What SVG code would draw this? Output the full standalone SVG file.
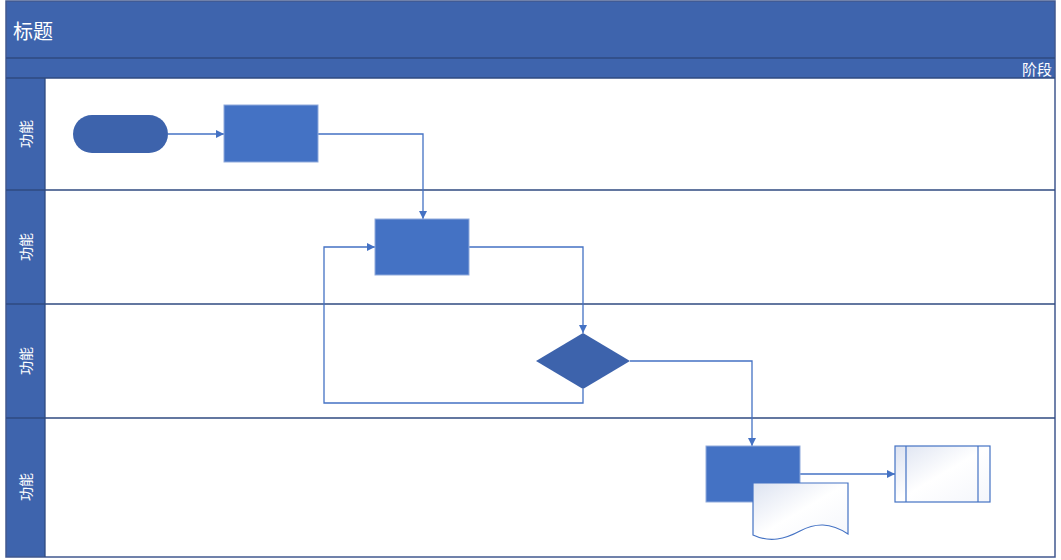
<svg xmlns="http://www.w3.org/2000/svg" width="1061" height="560" viewBox="0 0 1061 560">
<style>
.lbl{font-family:"Noto Sans CJK SC","Liberation Sans",sans-serif;fill:#ffffff}
.sep{stroke:#2F4A80;stroke-width:1.3}
.conn{fill:none;stroke:#4472C4;stroke-width:1.3}
.proc{fill:#4472C4;stroke:#8FAADC;stroke-width:1}
.dark{fill:#3D63AC}
.light{fill:url(#g);stroke:#4472C4;stroke-width:1.2}
</style>
<defs>
<marker id="a" viewBox="0 0 10 10" refX="10" refY="5" markerWidth="8" markerHeight="8" markerUnits="userSpaceOnUse" orient="auto"><path d="M0,0L10,5L0,10z" fill="#4472C4"/></marker>
<linearGradient id="g" x1="0" y1="0" x2="1" y2="1"><stop offset="0" stop-color="#DDE3F1"/><stop offset="0.5" stop-color="#FFFFFF"/><stop offset="1" stop-color="#F4F6FB"/></linearGradient>
</defs>
<rect x="0" y="0" width="1061" height="560" fill="#ffffff"/>
<g id="pool">
<rect x="6" y="1" width="1049" height="77" fill="#3E64AD"/>
<rect x="6" y="78" width="39" height="479" fill="#3E64AD"/>
<rect x="6" y="1" width="1049" height="556" fill="none" stroke="#41588F" stroke-width="1.5"/>
<line class="sep" x1="6" y1="58" x2="1055" y2="58"/>
<line class="sep" x1="6" y1="78" x2="1055" y2="78"/>
<line class="sep" x1="45" y1="78" x2="45" y2="557"/>
<line class="sep" x1="6" y1="190" x2="1055" y2="190"/>
<line class="sep" x1="6" y1="304" x2="1055" y2="304"/>
<line class="sep" x1="6" y1="418" x2="1055" y2="418"/>
<text class="lbl" x="13" y="39" font-size="20">标题</text>
<text class="lbl" x="1052" y="75" font-size="15" text-anchor="end">阶段</text>
</g>
<g id="lane1"><text class="lbl" font-size="14" text-anchor="middle" transform="translate(31,134) rotate(-90)">功能</text></g>
<g id="lane2"><text class="lbl" font-size="14" text-anchor="middle" transform="translate(31,247) rotate(-90)">功能</text></g>
<g id="lane3"><text class="lbl" font-size="14" text-anchor="middle" transform="translate(31,361) rotate(-90)">功能</text></g>
<g id="lane4"><text class="lbl" font-size="14" text-anchor="middle" transform="translate(31,487) rotate(-90)">功能</text></g>
<g id="connectors">
<path class="conn" d="M168,134H224" marker-end="url(#a)"/>
<path class="conn" d="M318,134H423V219" marker-end="url(#a)"/>
<path class="conn" d="M469,247H583V333" marker-end="url(#a)"/>
<path class="conn" d="M583,389V403H324V247H375" marker-end="url(#a)"/>
<path class="conn" d="M630,361H752V446" marker-end="url(#a)"/>
<path class="conn" d="M800,474H895" marker-end="url(#a)"/>
</g>
<g id="start"><rect class="dark" x="73" y="115" width="95" height="38" rx="19"/></g>
<g id="process1"><rect class="proc" x="224" y="105" width="94" height="57"/></g>
<g id="process2"><rect class="proc" x="375" y="219" width="94" height="56"/></g>
<g id="decision"><path class="dark" d="M583,333L630,361L583,389L536,361z"/></g>
<g id="process3"><rect class="proc" x="706" y="446" width="94" height="56"/></g>
<g id="document"><path class="light" d="M753,483H848V534C830,522 815,523 800,531C785,539 770,543 753,535z"/></g>
<g id="predefined"><rect class="light" x="895" y="446" width="95" height="56"/><line x1="906" y1="446" x2="906" y2="502" stroke="#4472C4" stroke-width="1.2"/><line x1="978" y1="446" x2="978" y2="502" stroke="#4472C4" stroke-width="1.2"/></g>
</svg>
